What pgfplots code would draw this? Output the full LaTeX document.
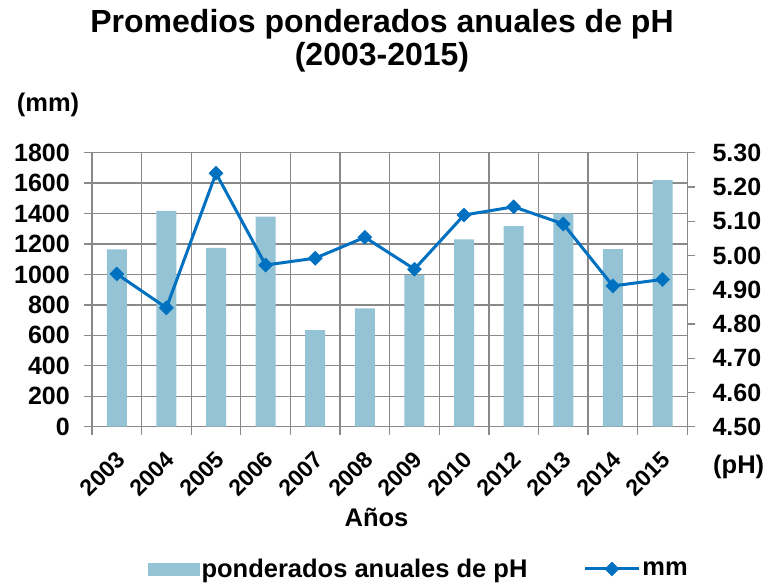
\documentclass[border=0pt]{standalone}
\usepackage{fontspec}
\setmainfont{Liberation Sans}
\usepackage{pgfplots}
\pgfplotsset{compat=1.18}
\definecolor{barc}{HTML}{93C3D4}
\definecolor{linec}{HTML}{0070C0}
\definecolor{gridc}{HTML}{898989}
\newcommand{\tickfont}{\fontsize{25}{25}\selectfont\bfseries}
\newcommand{\labfont}{\fontsize{25.5}{26}\selectfont\bfseries}
\begin{document}
\begin{tikzpicture}
\path[use as bounding box] (-92pt,-159.3pt) rectangle (676pt,426.7pt);
\begin{axis}[
  at={(0pt,0pt)}, anchor=south west,
  scale only axis, width=595.3pt, height=274pt,
  xmin=-0.5, xmax=11.5, ymin=0, ymax=1800,
  xtick={0,...,11},
  xticklabels={2003,2004,2005,2006,2007,2008,2009,2010,2012,2013,2014,2015},
  major x tick style={draw=none},
  minor xtick={-0.5,0.5,...,11.5},
  xminorgrids,
  ytick={0,200,...,1800},
  ymajorgrids,
  tick align=outside, tick pos=left,
  major tick length=8pt, minor tick length=8pt,
  every tick/.style={gridc, line width=1.3pt},
  grid style={gridc, line width=1.3pt},
  minor grid style={gridc, line width=1.3pt},
  axis line style={gridc, line width=1.3pt},
  /pgf/number format/assume math mode=true,
  /pgf/number format/1000 sep={},
  yticklabel style={font=\tickfont, inner sep=0pt, xshift=-14pt},
  xticklabel style={font=\fontsize{23}{23}\selectfont\bfseries, xshift=-2pt, yshift=-15pt, rotate=45, anchor=north east, inner sep=0pt},
]
\addplot[ybar, bar width=20pt, fill=barc, draw=none] coordinates {
(0,1165) (1,1417) (2,1174) (3,1380) (4,635) (5,778)
(6,997) (7,1231) (8,1318) (9,1402) (10,1167) (11,1619)};
\end{axis}
\begin{axis}[
  at={(0pt,0pt)}, anchor=south west,
  scale only axis, width=595.3pt, height=274pt,
  xmin=-0.5, xmax=11.5, ymin=4.5, ymax=5.3,
  axis x line=none, axis y line*=right,
  ytick={4.5,4.6,4.7,4.8,4.9,5.0,5.1,5.2,5.3},
  tick align=outside, major tick length=8pt,
  every tick/.style={gridc, line width=1.3pt},
  axis line style={gridc, line width=1.3pt},
  /pgf/number format/assume math mode=true,
  yticklabel style={font=\tickfont, inner sep=0pt, xshift=17pt, /pgf/number format/.cd, fixed, fixed zerofill, precision=2},
  legend columns=2,
  legend style={draw=none, fill=none, font=\labfont, at={(0.094,-0.519)}, anchor=west, inner sep=0pt,
    /tikz/every even column/.append style={column sep=54pt}},
]
\addlegendimage{legend image code/.code={\fill[barc] (0pt,-6.2pt) rectangle (51pt,6.2pt);}}
\addlegendentry{ponderados anuales de pH}
\addplot[linec, line width=3pt, mark=square*, mark size=5pt,
  mark options={solid, fill=linec, draw=linec, line width=0.4pt, rotate=45},
  legend image code/.code={\draw[linec, line width=3pt, mark=square*, mark size=5pt, mark options={solid, fill=linec, draw=linec, line width=0.4pt, rotate=45}, mark repeat=2, mark phase=2] plot coordinates {(0pt,0pt) (27pt,0pt) (54pt,0pt)};}]
coordinates {
(0,4.946) (1,4.847) (2,5.240) (3,4.972) (4,4.992) (5,5.053)
(6,4.960) (7,5.118) (8,5.142) (9,5.092) (10,4.911) (11,4.930)};
\addlegendentry{mm}
\end{axis}
\node[anchor=base, font=\fontsize{32}{32}\selectfont\bfseries] at (290pt,394.4pt) {Promedios ponderados anuales de pH};
\node[anchor=base, font=\fontsize{32}{32}\selectfont\bfseries] at (290pt,361pt) {(2003-2015)};
\node[anchor=base west, inner sep=0pt, font=\labfont] at (-75.3pt,315pt) {(mm)};
\node[anchor=base west, inner sep=0pt, font=\labfont] at (621pt,-46.5pt) {(pH)};
\node[anchor=base, inner sep=0pt, font=\labfont] at (284.5pt,-99.3pt) {Años};
\end{tikzpicture}
\end{document}
